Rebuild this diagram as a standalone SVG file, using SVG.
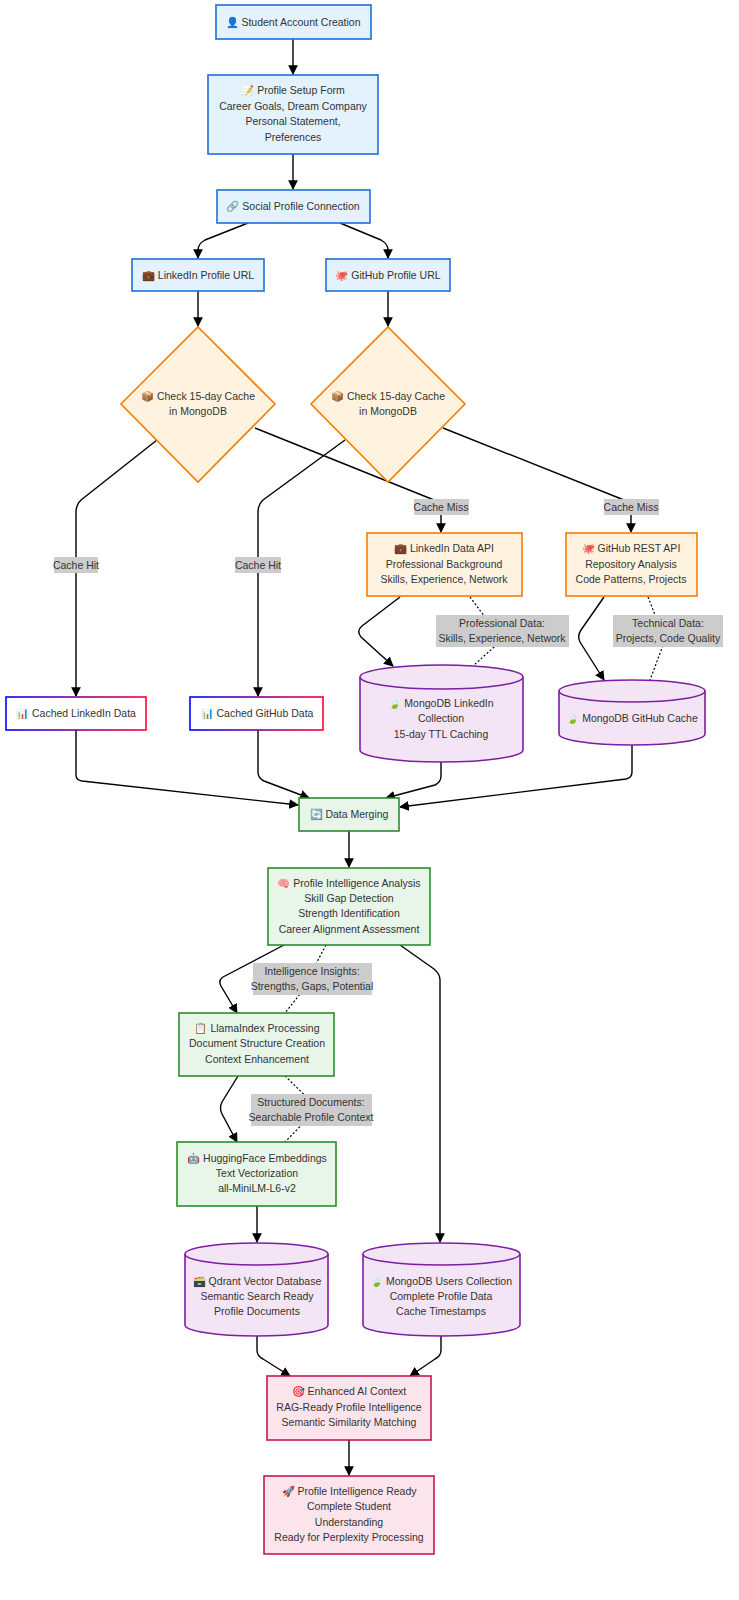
<svg xmlns="http://www.w3.org/2000/svg" width="739" height="1600" viewBox="0 0 739 1600">
<style>
text{font-family:"Liberation Sans",Arial,"Noto Sans",sans-serif;font-size:10.5px;fill:#333;text-anchor:middle}
.blue{fill:#e3f2fd;stroke:#1e6fd9;stroke-width:1.6}
.orange{fill:#fff3e0;stroke:#f57c00;stroke-width:1.6}
.green{fill:#e8f5e9;stroke:#2e8b2e;stroke-width:1.6}
.purple{fill:#f3e5f5;stroke:#7b1fa2;stroke-width:1.6}
.pink{fill:#fce4ec;stroke:#c2185b;stroke-width:1.6}
.grad{fill:#fff;stroke:url(#g);stroke-width:1.6}
.e{fill:none;stroke:#000;stroke-width:1.4}
.d{fill:none;stroke:#000;stroke-width:1.2;stroke-dasharray:2,2}
.lb{fill:#cccccc}
</style>
<defs>
<linearGradient id="g" x1="0" y1="0" x2="1" y2="0"><stop offset="0" stop-color="#0000ff"/><stop offset="1" stop-color="#ff0033"/></linearGradient>
<marker id="a" viewBox="0 0 10 10" refX="9" refY="5" markerWidth="7" markerHeight="7" orient="auto"><path d="M0,0L10,5L0,10z" fill="#000"/></marker>
</defs>
<g id="connectors">
<path class="e" marker-end="url(#a)" d="M293,39V74"/>
<path class="e" marker-end="url(#a)" d="M293,154V189"/>
<path class="e" d="M248,223L205,240Q198,244 198,250V258" marker-end="url(#a)"/>
<path class="e" d="M340,223L381,240Q388,244 388,250V258" marker-end="url(#a)"/>
<path class="e" marker-end="url(#a)" d="M198,291V326"/>
<path class="e" marker-end="url(#a)" d="M388,291V326"/>
<path class="e" marker-end="url(#a)" d="M157,440L81,500Q76,505 76,512V696"/>
<path class="e" marker-end="url(#a)" d="M255,428L434,500Q441,503 441,510V532"/>
<path class="e" marker-end="url(#a)" d="M345,440L263,500Q258,505 258,512V696"/>
<path class="e" marker-end="url(#a)" d="M443,428L624,500Q631,503 631,510V532"/>
<path class="e" marker-end="url(#a)" d="M400,597L362,626Q356,631 361,637L393,666"/>
<path class="e" marker-end="url(#a)" d="M604,597L581,630Q577,636 580,642L604,680"/>
<path class="d" d="M470,597L502,640L474,665"/>
<path class="d" d="M648,597L665,640L650,680"/>
<path class="e" marker-end="url(#a)" d="M76,730V775Q76,780 82,781L298,805"/>
<path class="e" marker-end="url(#a)" d="M258,730V772Q258,778 264,781L309,798"/>
<path class="e" marker-end="url(#a)" d="M441,762V776Q441,782 435,785L386,798"/>
<path class="e" marker-end="url(#a)" d="M632,745V772Q632,778 626,779L400,807"/>
<path class="e" marker-end="url(#a)" d="M349,831V867"/>
<path class="e" marker-end="url(#a)" d="M284,945L223,977Q218,980 221,986L237,1013"/>
<path class="d" d="M326,945L300,994L285,1013"/>
<path class="e" marker-end="url(#a)" d="M400,945L434,969Q440,974 440,980V1242"/>
<path class="e" marker-end="url(#a)" d="M238,1076L222,1102Q219,1108 222,1114L237,1142"/>
<path class="d" d="M285,1076L318,1108L285,1142"/>
<path class="e" marker-end="url(#a)" d="M257,1206V1242"/>
<path class="e" marker-end="url(#a)" d="M257,1336V1350Q257,1356 263,1359L290,1376"/>
<path class="e" marker-end="url(#a)" d="M441,1336V1350Q441,1356 435,1359L410,1376"/>
<path class="e" marker-end="url(#a)" d="M349,1440V1475"/>
<g id="labels">
<rect class="lb" x="54" y="557" width="44" height="16"/><text x="76" y="569">Cache Hit</text>
<rect class="lb" x="235" y="557" width="46" height="16"/><text x="258" y="569">Cache Hit</text>
<rect class="lb" x="414" y="499" width="55" height="16"/><text x="441" y="511">Cache Miss</text>
<rect class="lb" x="604" y="499" width="55" height="16"/><text x="631" y="511">Cache Miss</text>
<rect class="lb" x="436" y="615" width="133" height="32"/><text x="502" y="627">Professional Data:</text><text x="502" y="642">Skills, Experience, Network</text>
<rect class="lb" x="613" y="615" width="110" height="32"/><text x="668" y="627">Technical Data:</text><text x="668" y="642">Projects, Code Quality</text>
<rect class="lb" x="253" y="963" width="119" height="32"/><text x="312" y="975">Intelligence Insights:</text><text x="312" y="990">Strengths, Gaps, Potential</text>
<rect class="lb" x="251" y="1094" width="121" height="32"/><text x="311" y="1106">Structured Documents:</text><text x="311" y="1121">Searchable Profile Context</text>
</g>
</g>
<g id="n1"><rect class="blue" x="216" y="5" width="155" height="34"/><text x="293" y="26">👤 Student Account Creation</text></g>
<g id="n2"><rect class="blue" x="208" y="75" width="170" height="79"/><text x="293" y="94">📝 Profile Setup Form</text><text x="293" y="110">Career Goals, Dream Company</text><text x="293" y="125">Personal Statement,</text><text x="293" y="141">Preferences</text></g>
<g id="n3"><rect class="blue" x="217" y="190" width="153" height="33"/><text x="293" y="210">🔗 Social Profile Connection</text></g>
<g id="n4"><rect class="blue" x="132" y="259" width="132" height="32"/><text x="198" y="279">💼 LinkedIn Profile URL</text></g>
<g id="n5"><rect class="blue" x="326" y="259" width="124" height="32"/><text x="388" y="279">🐙 GitHub Profile URL</text></g>
<g id="n6"><polygon class="orange" points="198,327 275,404 198,482 121,404"/><text x="198" y="400">📦 Check 15-day Cache</text><text x="198" y="415">in MongoDB</text></g>
<g id="n7"><polygon class="orange" points="388,327 465,404 388,482 311,404"/><text x="388" y="400">📦 Check 15-day Cache</text><text x="388" y="415">in MongoDB</text></g>
<g id="n8"><rect class="orange" x="367" y="533" width="155" height="63"/><text x="444" y="552">💼 LinkedIn Data API</text><text x="444" y="568">Professional Background</text><text x="444" y="583">Skills, Experience, Network</text></g>
<g id="n9"><rect class="orange" x="566" y="533" width="131" height="63"/><text x="631" y="552">🐙 GitHub REST API</text><text x="631" y="568">Repository Analysis</text><text x="631" y="583">Code Patterns, Projects</text></g>
<g id="n10"><rect class="grad" x="6" y="697" width="140" height="33"/><text x="76" y="717">📊 Cached LinkedIn Data</text></g>
<g id="n11"><rect class="grad" x="190" y="697" width="133" height="33"/><text x="257" y="717">📊 Cached GitHub Data</text></g>
<g id="n12"><path class="purple" d="M360,677A81.5,12 0 0 1 523,677V750A81.5,12 0 0 1 360,750Z"/><path class="purple" d="M360,677A81.5,12 0 0 0 523,677" fill="none"/><text x="441" y="707">🍃 MongoDB LinkedIn</text><text x="441" y="722">Collection</text><text x="441" y="738">15-day TTL Caching</text></g>
<g id="n13"><path class="purple" d="M559,691A73,11 0 0 1 705,691V734A73,11 0 0 1 559,734Z"/><path class="purple" d="M559,691A73,11 0 0 0 705,691" fill="none"/><text x="632" y="722">🍃 MongoDB GitHub Cache</text></g>
<g id="n14"><rect class="green" x="299" y="798" width="100" height="33"/><text x="349" y="818">🔄 Data Merging</text></g>
<g id="n15"><rect class="green" x="268" y="868" width="162" height="77"/><text x="349" y="887">🧠 Profile Intelligence Analysis</text><text x="349" y="902">Skill Gap Detection</text><text x="349" y="917">Strength Identification</text><text x="349" y="933">Career Alignment Assessment</text></g>
<g id="n16"><rect class="green" x="179" y="1013" width="155" height="63"/><text x="257" y="1032">📋 LlamaIndex Processing</text><text x="257" y="1047">Document Structure Creation</text><text x="257" y="1063">Context Enhancement</text></g>
<g id="n17"><rect class="green" x="177" y="1142" width="159" height="64"/><text x="257" y="1162">🤖 HuggingFace Embeddings</text><text x="257" y="1177">Text Vectorization</text><text x="257" y="1192">all-MiniLM-L6-v2</text></g>
<g id="n18"><path class="purple" d="M185,1254A71.5,11 0 0 1 328,1254V1325A71.5,11 0 0 1 185,1325Z"/><path class="purple" d="M185,1254A71.5,11 0 0 0 328,1254" fill="none"/><text x="257" y="1285">🗃️ Qdrant Vector Database</text><text x="257" y="1300">Semantic Search Ready</text><text x="257" y="1315">Profile Documents</text></g>
<g id="n19"><path class="purple" d="M363,1254A78.5,11 0 0 1 520,1254V1325A78.5,11 0 0 1 363,1325Z"/><path class="purple" d="M363,1254A78.5,11 0 0 0 520,1254" fill="none"/><text x="441" y="1285">🍃 MongoDB Users Collection</text><text x="441" y="1300">Complete Profile Data</text><text x="441" y="1315">Cache Timestamps</text></g>
<g id="n20"><rect class="pink" x="267" y="1376" width="164" height="64"/><text x="349" y="1395">🎯 Enhanced AI Context</text><text x="349" y="1411">RAG-Ready Profile Intelligence</text><text x="349" y="1426">Semantic Similarity Matching</text></g>
<g id="n21"><rect class="pink" x="264" y="1476" width="170" height="78"/><text x="349" y="1495">🚀 Profile Intelligence Ready</text><text x="349" y="1510">Complete Student</text><text x="349" y="1526">Understanding</text><text x="349" y="1541">Ready for Perplexity Processing</text></g>
</svg>
